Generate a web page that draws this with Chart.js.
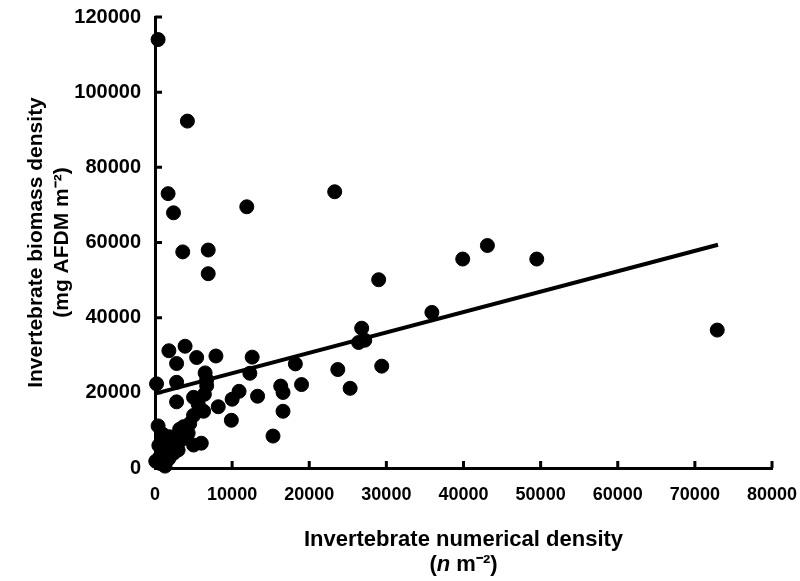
<!DOCTYPE html>
<html><head><meta charset="utf-8">
<script src="https://cdn.jsdelivr.net/npm/chart.js@4.4.1/dist/chart.umd.min.js"></script>
<style>html,body{margin:0;padding:0;background:#fff}#wrap{width:800px;height:581px}</style>
</head><body><div id="wrap"><canvas id="c" width="800" height="581"></canvas></div>
<script>
// Invertebrate numerical density (n m-2)
const numericalDensity = [400,4200,1700,2400,11900,23300,3600,6900,6900,29000,39900,43100,49500,35900,72900,26800,26400,27200,23700,29400,25300,1800,3900,2800,5400,7900,12600,12300,18200,6500,200,2800,6700,6700,6400,10900,10000,13300,16300,16600,19000,16600,15300,9900,8200,2800,5000,6300,5000,400,3700,3200,4300,1900,1300,6000,5000,2800,2400,3000,900,650,100,1300,700,1800,2200,1000,3400,4500,500,5600];
// Invertebrate biomass density (mg AFDM m-2)
const biomassDensity = [114000,92300,73000,67900,69500,73500,57500,58000,51700,50100,55600,59200,55600,41400,36700,37200,33400,34000,26200,27100,21200,31200,32400,27800,29400,29800,29500,25200,27700,25300,22400,22800,21900,23500,19600,20400,18300,19100,21800,20100,22200,15100,8500,12700,16300,17600,18800,15100,14000,11200,11000,10300,9300,8300,7200,6600,6100,5700,3900,4800,4800,3000,1800,500,1200,2500,7000,9000,7500,11800,6000,17000];
// Fitted regression line end points
const fitX = [0, 73000];
const fitY = [19800, 59400];
const xTickValues = [0,10000,20000,30000,40000,50000,60000,70000,80000];
const yTickValues = [0,20000,40000,60000,80000,100000,120000];
const yTitleLines = ['Invertebrate biomass density', '(mg AFDM m\u207B\u00B2)'];
const xTitleLine1 = 'Invertebrate numerical density';
const xTitleParts = ['(', 'n', ' m\u207B\u00B2)'];

const BOLD = 'bold';
const SANS = '"Liberation Sans", Arial, Helvetica, sans-serif';

const tickMarks = {
  id: 'tickMarks',
  beforeDatasetsDraw(chart) {
    const ctx = chart.ctx, xs = chart.scales.x, ys = chart.scales.y;
    ctx.save();
    ctx.strokeStyle = '#000';
    ctx.lineWidth = 3;
    ctx.beginPath();
    xs.ticks.forEach((t, i) => {
      const px = xs.getPixelForTick(i);
      ctx.moveTo(px, ys.bottom);
      ctx.lineTo(px, ys.bottom - 7);
    });
    ys.ticks.forEach((t, i) => {
      const py = ys.getPixelForTick(i);
      ctx.moveTo(xs.left, py);
      ctx.lineTo(xs.left + 7, py);
    });
    ctx.stroke();
    ctx.restore();
  }
};

const xTitle = {
  id: 'xTitle',
  afterDraw(chart) {
    const ctx = chart.ctx, ca = chart.chartArea;
    const cx = (ca.left + ca.right) / 2;
    ctx.save();
    ctx.fillStyle = '#000';
    ctx.textBaseline = 'middle';
    ctx.textAlign = 'center';
    ctx.font = 'bold 22px ' + SANS;
    ctx.fillText(xTitleLine1, cx, 540);
    const fonts = ['bold 22px ' + SANS, 'italic bold 22px ' + SANS, 'bold 22px ' + SANS];
    let widths = xTitleParts.map((p, i) => { ctx.font = fonts[i]; return ctx.measureText(p).width; });
    let total = widths.reduce((a, b) => a + b, 0);
    let x = cx - total / 2;
    ctx.textAlign = 'left';
    xTitleParts.forEach((p, i) => { ctx.font = fonts[i]; ctx.fillText(p, x, 565); x += widths[i]; });
    ctx.restore();
  }
};

new Chart(document.getElementById('c'), {
  type: 'scatter',
  data: {
    datasets: [
      {
        label: 'Sites',
        data: numericalDensity.map((x, i) => ({x: x, y: biomassDensity[i]})),
        backgroundColor: '#000',
        borderColor: '#000',
        borderWidth: 1,
        pointRadius: 7,
        pointHoverRadius: 7,
        clip: false
      },
      {
        type: 'line',
        label: 'Fit',
        data: fitX.map((x, i) => ({x: x, y: fitY[i]})),
        borderColor: '#000',
        borderWidth: 4,
        pointRadius: 0,
        fill: false,
        clip: false
      }
    ]
  },
  options: {
    responsive: false,
    animation: false,
    devicePixelRatio: 1,
    layout: {padding: {left: 0, right: 28, top: 17, bottom: 0}},
    plugins: {legend: {display: false}, tooltip: {enabled: false}, title: {display: false}},
    scales: {
      x: {
        type: 'linear', min: 0, max: 80000,
        afterBuildTicks: (s) => { s.ticks = xTickValues.map(v => ({value: v})); },
        afterFit: (s) => { s.height = 113; s.paddingLeft = 0; s.paddingRight = 0; },
        ticks: {color: '#000', padding: 16, maxRotation: 0, autoSkip: false,
          font: {family: SANS, size: 18, weight: BOLD},
          callback: (v) => String(v)},
        grid: {display: true, drawOnChartArea: false, drawTicks: false},
        border: {display: true, color: '#000', width: 3}
      },
      y: {
        type: 'linear', min: 0, max: 120000,
        afterBuildTicks: (s) => { s.ticks = yTickValues.map(v => ({value: v})); },
        afterFit: (s) => { s.width = 155; s.paddingTop = 0; s.paddingBottom = 0; },
        ticks: {color: '#000', padding: 14, autoSkip: false,
          font: {family: SANS, size: 20, weight: BOLD},
          callback: (v) => String(v)},
        grid: {display: true, drawOnChartArea: false, drawTicks: false},
        border: {display: true, color: '#000', width: 3},
        title: {display: true, text: yTitleLines, color: '#000',
          font: {family: SANS, size: 21, weight: BOLD}, padding: {top: 24, bottom: 0}}
      }
    }
  },
  plugins: [tickMarks, xTitle]
});
</script>
</body></html>
